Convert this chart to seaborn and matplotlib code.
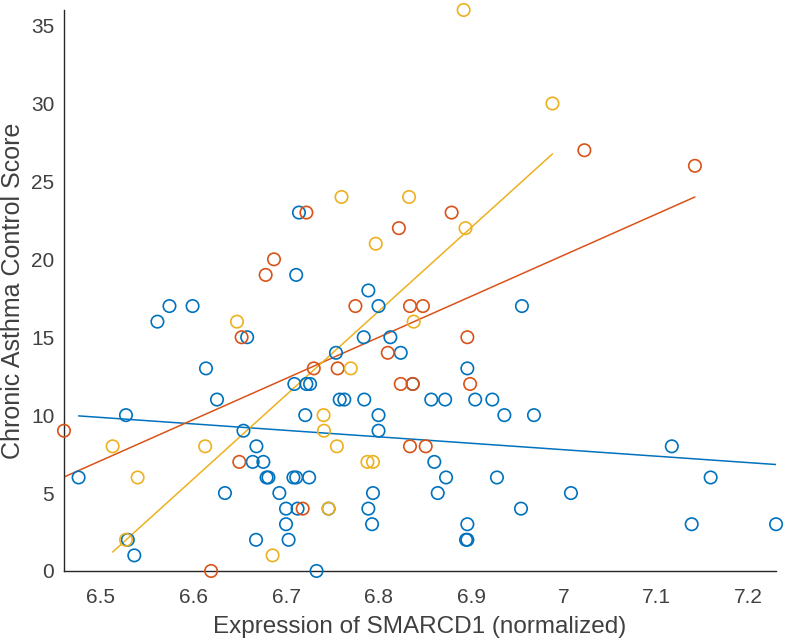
import numpy as np
import pandas as pd
import matplotlib
matplotlib.use("Agg")
import matplotlib.pyplot as plt
import seaborn as sns

# ---- data ----
blue_x = [6.4758, 6.527, 6.529, 6.536, 6.561, 6.574, 6.599, 6.6135, 6.6254, 6.634,
          6.654, 6.658, 6.6676, 6.668, 6.664, 6.6755, 6.679, 6.681, 6.6928, 6.700,
          6.700, 6.7028, 6.708, 6.711, 6.709, 6.711, 6.7125, 6.714, 6.7208, 6.722,
          6.726, 6.725, 6.733, 6.746, 6.754, 6.758, 6.763, 6.784, 6.7846, 6.789,
          6.789, 6.793, 6.794, 6.800, 6.800, 6.800, 6.8128, 6.824, 6.837, 6.857,
          6.8603, 6.864, 6.872, 6.873, 6.896, 6.896, 6.8946, 6.896, 6.9045, 6.923,
          6.928, 6.936, 6.954, 6.955, 6.968, 7.008, 7.117, 7.1385, 7.159, 7.2297]
blue_y = [6, 10, 2, 1, 16, 17, 17, 13, 11, 5,
          9, 15, 2, 8, 7, 7, 6, 6, 5, 4,
          3, 2, 6, 6, 12, 19, 4, 23, 10, 12,
          12, 6, 0, 4, 14, 11, 11, 15, 11, 18,
          4, 3, 5, 17, 10, 9, 15, 14, 12, 11,
          7, 5, 11, 6, 13, 3, 2, 2, 11, 11,
          6, 10, 4, 17, 10, 5, 8, 3, 6, 3]

red_x = [6.460, 6.619, 6.6495, 6.652, 6.678, 6.687, 6.718, 6.722, 6.7300, 6.7558,
         6.775, 6.810, 6.822, 6.824, 6.834, 6.834, 6.837, 6.848, 6.851, 6.879,
         6.896, 6.899, 7.0225, 7.142]
red_y = [9, 0, 7, 15, 19, 20, 4, 23, 13, 13,
         17, 14, 22, 12, 8, 17, 12, 17, 8, 23,
         15, 12, 27, 26]

yellow_x = [6.5126, 6.527, 6.5396, 6.6126, 6.647, 6.6855, 6.7406, 6.741, 6.746, 6.755,
            6.760, 6.770, 6.788, 6.794, 6.797, 6.833, 6.838, 6.892, 6.894, 6.988]
yellow_y = [8, 2, 6, 8, 16, 1, 10, 9, 4, 8,
            24, 13, 7, 7, 21, 24, 16, 36, 22, 30]

groups = ["blue", "red", "yellow"]
colors = {"blue": "#0072BD", "red": "#D95319", "yellow": "#EDB120"}

x_label = "Expression of SMARCD1 (normalized)"
y_label = "Chronic Asthma Control Score"
x_ticks = [6.5, 6.6, 6.7, 6.8, 6.9, 7.0, 7.1, 7.2]
x_tick_labels = ["6.5", "6.6", "6.7", "6.8", "6.9", "7", "7.1", "7.2"]
y_ticks = [0, 5, 10, 15, 20, 25, 30, 35]

df = pd.concat([
    pd.DataFrame({"x": blue_x, "y": blue_y, "g": "blue"}),
    pd.DataFrame({"x": red_x, "y": red_y, "g": "red"}),
    pd.DataFrame({"x": yellow_x, "y": yellow_y, "g": "yellow"}),
], ignore_index=True)

sns.set_style("white")
plt.rcParams["font.family"] = ["Liberation Sans", "DejaVu Sans"]

fig = plt.figure(figsize=(7.87, 6.44), dpi=100)
ax = fig.add_axes([0.0813, 0.1134, 0.9048, 0.8711])

for g in groups:
    sub = df[df["g"] == g]
    sns.scatterplot(data=sub, x="x", y="y", ax=ax, marker="o", s=80,
                    facecolor="none", edgecolor=colors[g], linewidth=1.2,
                    clip_on=False, zorder=3, legend=False)
for g in groups:
    sub = df[df["g"] == g]
    sns.regplot(data=sub, x="x", y="y", ax=ax, scatter=False, ci=None,
                truncate=True, color=colors[g], line_kws={"linewidth": 1.1})

ax.set_xlim(df["x"].min(), df["x"].max())
ax.set_ylim(0, 36)
ax.set_xticks(x_ticks)
ax.set_xticklabels(x_tick_labels)
ax.set_yticks(y_ticks)
ax.set_xlabel(x_label, fontsize=17.5, color="#404040", labelpad=7)
ax.set_ylabel(y_label, fontsize=18, color="#404040", labelpad=4)
ax.tick_params(direction="in", length=6, width=1, colors="#262626",
               labelsize=15, labelcolor="#404040")
ax.tick_params(axis="x", pad=12)
ax.tick_params(axis="y", pad=7)
for s in ["top", "right"]:
    ax.spines[s].set_visible(False)
for s in ["left", "bottom"]:
    ax.spines[s].set_color("#262626")
    ax.spines[s].set_linewidth(1.0)

fig.savefig("out.png", dpi=100)
